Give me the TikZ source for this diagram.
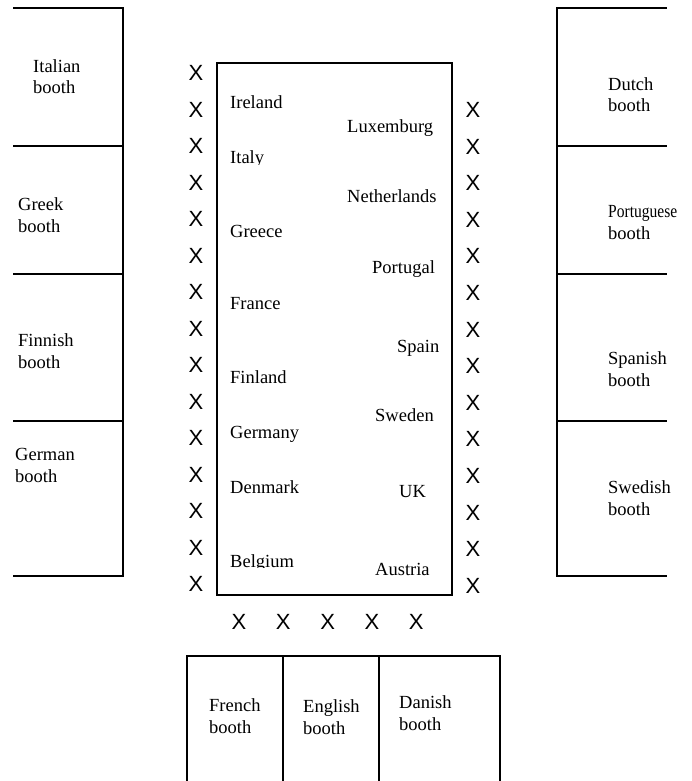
\documentclass[tikz,border=0pt]{standalone}
\usepackage{fontspec}
\setmainfont{Liberation Serif}
\newfontfamily\seatfont{Liberation Sans}
\begin{document}
\begin{tikzpicture}[x=1pt,y=-1pt,
  wall/.style={line width=1.5pt,line cap=rect},
  lbl/.style={inner sep=0pt,anchor=base west,align=left,
    font=\fontsize{18.5}{21.5}\selectfont},
  seat/.style={inner sep=0pt,anchor=center,font=\seatfont\fontsize{22}{22}\selectfont}]
\useasboundingbox (0,0) rectangle (691,781);
% left booths
\draw[wall] (123,8) -- (123,576);
\foreach \yy in {8,146,274,421,576} \draw[wall] (14,\yy) -- (123,\yy);
% right booths
\draw[wall] (557,8) -- (557,576);
\foreach \yy in {8,146,274,421,576} \draw[wall] (557,\yy) -- (666,\yy);
% bottom booths
\draw[wall] (187,656) -- (500,656);
\foreach \xx in {187,283,379,500} \draw[wall] (\xx,656) -- (\xx,781);
% table
\draw[wall] (217,63) rectangle (452,595);
% seats
\foreach \i in {0,...,14} \node[seat] (sl\i) at (196,73+36.5*\i) {X};
\foreach \i in {0,...,13} \node[seat] (sr\i) at (473,110+36.6*\i) {X};
\foreach \i in {0,...,4} \node[seat] (sb\i) at (239+44.3*\i,622) {X};
% booth labels (anchored at the baseline of the second line)
\node[lbl] (italian) at (33,94) {Italian\\booth};
\node[lbl] (greek) at (18,232) {Greek\\booth};
\node[lbl] (finnish) at (18,368) {Finnish\\booth};
\node[lbl] (german) at (15,482) {German\\booth};
\node[lbl] (dutch) at (608,112) {Dutch\\booth};
\node[lbl] (portuguese) at (608,239) {\scalebox{0.84}[1]{Portuguese}\\booth};
\node[lbl] (spanish) at (608,386) {Spanish\\booth};
\node[lbl] (swedish) at (608,515) {Swedish\\booth};
\node[lbl] (french) at (209,733) {French\\booth};
\node[lbl] (english) at (303,734) {English\\booth};
\node[lbl] (danish) at (399,730) {Danish\\booth};
% country labels
\node[lbl] (ireland) at (230,109) {Ireland};
\begin{scope}
  \clip (225,140) rectangle (300,164.5);
  \node[lbl] (italy) at (230,163) {Italy};
\end{scope}
\node[lbl] (greece) at (230,237) {Greece};
\node[lbl] (france) at (230,309) {France};
\node[lbl] (finland) at (230,383) {Finland};
\node[lbl] (germany) at (230,438) {Germany};
\node[lbl] (denmark) at (230,493) {Denmark};
\begin{scope}
  \clip (225,545) rectangle (320,567.5);
  \node[lbl] (belgium) at (230,567) {Belgium};
\end{scope}
\node[lbl] (luxemburg) at (347,132) {Luxemburg};
\node[lbl] (netherlands) at (347,202) {Netherlands};
\node[lbl] (portugal) at (372,273) {Portugal};
\node[lbl] (spain) at (397,352) {Spain};
\node[lbl] (sweden) at (375,421) {Sweden};
\node[lbl] (uk) at (399,497) {UK};
\node[lbl] (austria) at (375,575) {Austria};
\end{tikzpicture}
\end{document}
